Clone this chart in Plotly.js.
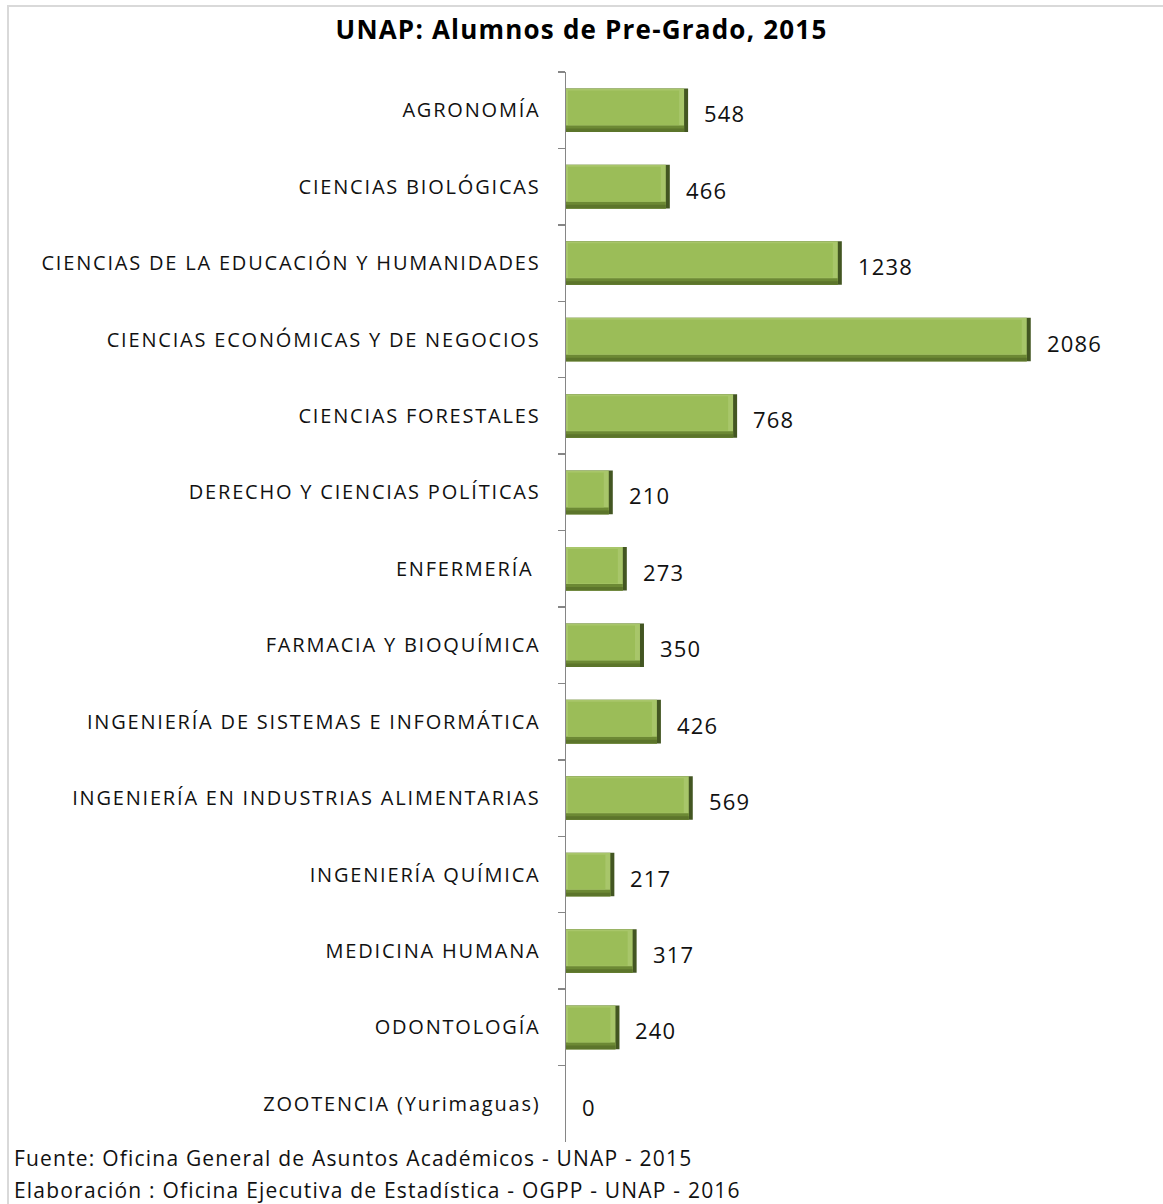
<!DOCTYPE html>
<html>
<head>
<meta charset="utf-8">
<script src="https://cdn.plot.ly/plotly-3.0.1.min.js"></script>
<style>
  html, body { margin: 0; padding: 0; background: #fff; overflow: hidden; }
  #wrap { position: relative; width: 1163px; height: 1204px; }
  #chart { position: absolute; left: 0; top: 0; width: 1163px; height: 1204px; }
  #frame { position: absolute; left: 7px; top: 5px; width: 2000px; height: 2000px;
           border-left: 2px solid #d9d9d9; border-top: 2px solid #d9d9d9; pointer-events: none; }
  .ytick text { letter-spacing: 1.8px; }
  .annotation-text { letter-spacing: 1.2px; }
  .gtitle { letter-spacing: 1.2px; }
</style>
</head>
<body>
<div id="wrap">
  <div id="chart"></div>
  <div id="frame"></div>
</div>
<script>
const titleText = "UNAP: Alumnos de Pre-Grado, 2015";
const categories = [
  "AGRONOMÍA",
  "CIENCIAS BIOLÓGICAS",
  "CIENCIAS DE LA EDUCACIÓN Y HUMANIDADES",
  "CIENCIAS ECONÓMICAS Y DE NEGOCIOS",
  "CIENCIAS FORESTALES",
  "DERECHO Y CIENCIAS POLÍTICAS",
  "ENFERMERÍA\u00a0",
  "FARMACIA Y BIOQUÍMICA",
  "INGENIERÍA DE SISTEMAS E INFORMÁTICA",
  "INGENIERÍA EN INDUSTRIAS ALIMENTARIAS",
  "INGENIERÍA QUÍMICA",
  "MEDICINA HUMANA",
  "ODONTOLOGÍA",
  "ZOOTENCIA (Yurimaguas)"
];
const students = [548, 466, 1238, 2086, 768, 210, 273, 350, 426, 569, 217, 317, 240, 0];
const sourceNote = "Fuente: Oficina General de Asuntos Académicos - UNAP - 2015";
const madeByNote = "Elaboración : Oficina Ejecutiva de Estadística - OGPP - UNAP - 2016";

const FONT = "'Open Sans', Lato, sans-serif";

// bevel styling (approximate pixel sizes converted to axis units)
const PX_X = 4.49;     // data units per pixel on the value axis
const PX_Y = 0.01308;  // category units per pixel
const BAR_W = 0.57;
const OFF = -BAR_W / 2;

function layer(xStart, xEndCut, topCut, bottomCut, color) {
  return {
    type: "bar", orientation: "h", y: categories,
    base: students.map(v => Math.min(xStart * PX_X, v)),
    x: students.map(v => Math.max(v - (xStart + xEndCut) * PX_X, 0)),
    width: BAR_W - (topCut + bottomCut) * PX_Y,
    offset: OFF + topCut * PX_Y,
    marker: { color: color, line: { width: 0 } },
    hoverinfo: "skip", showlegend: false
  };
}

const barMain = {
  type: "bar", orientation: "h", y: categories, x: students,
  width: BAR_W, offset: OFF,
  marker: { color: "#435622", line: { width: 0 } },
  hoverinfo: "x+y", showlegend: false
};
const traces = [
  barMain,
  layer(0, 4, 0, 0, "#a8c66a"),
  layer(0, 4, 37, 0, "#6c8934"),
  layer(0, 4, 40, 0, "#5c752b"),
  layer(2, 9, 2, 7, "#9bbd58")
];

const valueLabels = categories.map((c, i) => ({
  x: students[i], y: c, xref: "x", yref: "y",
  text: String(students[i]), showarrow: false,
  xanchor: "left", yanchor: "middle", xshift: 14, yshift: -3,
  font: { family: FONT, size: 22, color: "#111" }
}));

const notes = [
  { text: sourceNote, xref: "paper", yref: "paper", x: -0.9946, y: -0.015,
    xanchor: "left", yanchor: "middle", showarrow: false,
    font: { family: FONT, size: 21, color: "#111" } },
  { text: madeByNote, xref: "paper", yref: "paper", x: -0.9946, y: -0.0449,
    xanchor: "left", yanchor: "middle", showarrow: false,
    font: { family: FONT, size: 21, color: "#111" } }
];

const layout = {
  width: 1163, height: 1204,
  margin: { l: 566, r: 40, t: 72, b: 62 },
  paper_bgcolor: "#ffffff", plot_bgcolor: "#ffffff",
  barmode: "overlay",
  title: {
    text: "<b>" + titleText + "</b>",
    x: 0.5, xref: "container", y: 0.975, yref: "container", yanchor: "middle",
    font: { family: FONT, size: 26, color: "#000" }
  },
  xaxis: {
    range: [0, 2500], visible: false, fixedrange: true
  },
  yaxis: {
    type: "category", autorange: "reversed",
    showline: true, linecolor: "#868686", linewidth: 1.5,
    ticks: "outside", ticklen: 7, tickcolor: "#868686", tickwidth: 1.5,
    tickson: "boundaries", showgrid: false, zeroline: false,
    ticklabelstandoff: 20,
    tickfont: { family: FONT, size: 20, color: "#111" }
  },
  annotations: valueLabels.concat(notes)
};

Plotly.newPlot("chart", traces, layout, { displayModeBar: false, staticPlot: true });
</script>
</body>
</html>
